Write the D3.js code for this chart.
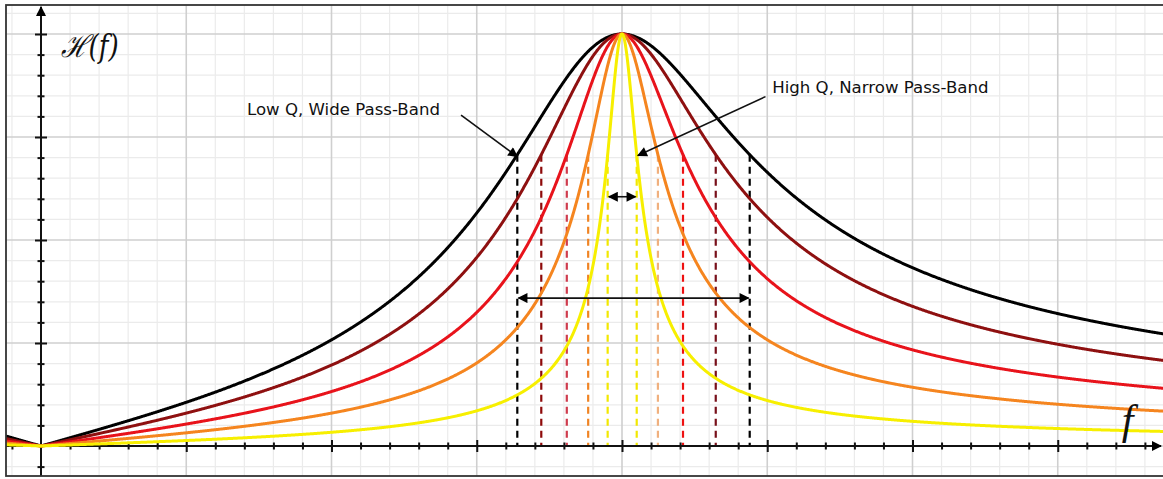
<!DOCTYPE html>
<html><head><meta charset="utf-8">
<script src="https://cdn.jsdelivr.net/npm/d3@7/dist/d3.min.js"></script>
<style>html,body{margin:0;padding:0;background:#fff;} svg{display:block}</style>
</head><body><svg id="chart" width="1163" height="479"></svg>
<script>
// ---------------- data ----------------
const seriesNames = ["Q = 2.5", "Q = 3.33", "Q = 5", "Q = 8.33", "Q = 20"];
const qualityFactors = [2.5, 3.33, 5, 8.33, 20];
const resonantFrequency = 1;      // f0 (normalised)
const peakGain = 1;               // |H(f0)|
const halfPowerLevel = Math.SQRT1_2; // -3 dB
const freqTickStep = 0.05;        // minor grid / tick spacing on f axis
const gainTickStep = 0.05;        // minor grid / tick spacing on H axis
const majorEvery = 5;             // every 5th tick is a major one
const annotationTexts = ["Low Q, Wide Pass-Band", "High Q, Narrow Pass-Band"];
const axisLabelY = "\u210B(f)";
const axisLabelX = "f";

// ---------------- styles ----------------
const curveColors = ["#000000", "#8e1010", "#e8131b", "#f5851f", "#f7ef00"];
const dashLeftColors = ["#000000", "#8e0a0a", "#cf3b4d", "#f08424", "#f2e800"];
const dashRightColors = ["#000000", "#78101a", "#ee1111", "#f0b07e", "#f2e800"];

// ---------------- layout ----------------
const W = 1163, H = 479;
const frame = {x: 6, y: 5, w: 1200, h: 471};
const x = d3.scaleLinear().domain([0, 1]).range([41, 622]);
const y = d3.scaleLinear().domain([0, 1]).range([446, 34]);

const svg = d3.select("#chart");
svg.append("rect").attr("width", W).attr("height", H).attr("fill", "#fff");

const defs = svg.append("defs");
defs.append("clipPath").attr("id", "clip").append("rect")
  .attr("x", frame.x).attr("y", frame.y).attr("width", frame.w).attr("height", frame.h);
function marker(id, size, w) {
  defs.append("marker").attr("id", id)
    .attr("viewBox", "0 0 10 10").attr("refX", 9).attr("refY", 5)
    .attr("markerUnits", "userSpaceOnUse")
    .attr("markerWidth", size).attr("markerHeight", w)
    .attr("orient", "auto-start-reverse")
    .append("path").attr("d", "M0,0 L10,5 L0,10 Z").attr("fill", "#000");
}
marker("arr", 12, 10);
marker("axarr", 12, 10);

const g = svg.append("g").attr("clip-path", "url(#clip)");

// grid
const fMin = x.invert(frame.x), fMax = x.invert(frame.x + frame.w);
const hMin = y.invert(frame.y + frame.h), hMax = y.invert(frame.y);
const gridF = d3.range(Math.ceil(fMin / freqTickStep), Math.floor(fMax / freqTickStep) + 1);
const gridH = d3.range(Math.ceil(hMin / gainTickStep), Math.floor(hMax / gainTickStep) + 1);

const gridG = g.append("g");
const isMajor = i => ((i % majorEvery) + majorEvery) % majorEvery === 0;
gridG.selectAll(".vminor").data(gridF.filter(i => !isMajor(i))).join("line")
  .attr("x1", i => x(i * freqTickStep)).attr("x2", i => x(i * freqTickStep))
  .attr("y1", frame.y).attr("y2", frame.y + frame.h)
  .attr("stroke", "#ebebeb").attr("stroke-width", 1.2);
gridG.selectAll(".hminor").data(gridH.filter(i => !isMajor(i))).join("line")
  .attr("y1", i => y(i * gainTickStep)).attr("y2", i => y(i * gainTickStep))
  .attr("x1", frame.x).attr("x2", frame.x + frame.w)
  .attr("stroke", "#ebebeb").attr("stroke-width", 1.2);
gridG.selectAll(".vmajor").data(gridF.filter(isMajor)).join("line")
  .attr("x1", i => x(i * freqTickStep)).attr("x2", i => x(i * freqTickStep))
  .attr("y1", frame.y).attr("y2", frame.y + frame.h)
  .attr("stroke", "#cfcfcf").attr("stroke-width", 1.6);
gridG.selectAll(".hmajor").data(gridH.filter(isMajor)).join("line")
  .attr("y1", i => y(i * gainTickStep)).attr("y2", i => y(i * gainTickStep))
  .attr("x1", frame.x).attr("x2", frame.x + frame.w)
  .attr("stroke", "#cfcfcf").attr("stroke-width", 1.6);

// response & half-power points
function response(f, Q) {
  const a = Math.abs(f) / resonantFrequency;
  if (a === 0) return 0;
  const d = a - 1 / a;
  return peakGain / Math.sqrt(1 + Q * Q * d * d);
}
function halfPower(Q) {
  const s = Math.sqrt(1 + 4 * Q * Q);
  return [(s - 1) / (2 * Q) * resonantFrequency, (s + 1) / (2 * Q) * resonantFrequency];
}

// dashed half-power lines
const dashG = g.append("g");
qualityFactors.forEach((Q, i) => {
  const [f1, f2] = halfPower(Q);
  [[f1, dashLeftColors[i]], [f2, dashRightColors[i]]].forEach(([f, c]) => {
    dashG.append("line")
      .attr("x1", x(f)).attr("x2", x(f))
      .attr("y1", y(halfPowerLevel * peakGain)).attr("y2", y(0))
      .attr("stroke", c).attr("stroke-width", 2.2)
      .attr("stroke-dasharray", "7,5");
  });
});

// axes (library axes for ticks)
const axG = g.append("g");
const xTickVals = gridF.map(i => i * freqTickStep).filter(v => Math.abs(v) > 1e-9);
const yTickVals = gridH.map(i => i * gainTickStep).filter(v => Math.abs(v) > 1e-9);
function crossTicks(sel, size, horizontal) {
  sel.selectAll(".tick line").attr(horizontal ? "y1" : "x1", -size).attr(horizontal ? "y2" : "x2", size)
    .attr("stroke", "#111").attr("stroke-width", 2);
  sel.selectAll(".domain").remove();
  sel.selectAll("text").remove();
}
const xMinor = axG.append("g").attr("transform", `translate(0,${y(0)})`)
  .call(d3.axisBottom(x).tickValues(xTickVals.filter(v => !isMajor(Math.round(v / freqTickStep)))).tickFormat(""));
crossTicks(xMinor, 3.5, true);
const xMajor = axG.append("g").attr("transform", `translate(0,${y(0)})`)
  .call(d3.axisBottom(x).tickValues(xTickVals.filter(v => isMajor(Math.round(v / freqTickStep)))).tickFormat(""));
crossTicks(xMajor, 6, true);
const yMinor = axG.append("g").attr("transform", `translate(${x(0)},0)`)
  .call(d3.axisLeft(y).tickValues(yTickVals.filter(v => !isMajor(Math.round(v / gainTickStep)))).tickFormat(""));
crossTicks(yMinor, 3.5, false);
const yMajor = axG.append("g").attr("transform", `translate(${x(0)},0)`)
  .call(d3.axisLeft(y).tickValues(yTickVals.filter(v => isMajor(Math.round(v / gainTickStep)))).tickFormat(""));
crossTicks(yMajor, 6, false);

axG.append("line").attr("x1", frame.x).attr("x2", W - 2).attr("y1", y(0)).attr("y2", y(0))
  .attr("stroke", "#111").attr("stroke-width", 2).attr("marker-end", "url(#axarr)");
axG.append("line").attr("x1", x(0)).attr("x2", x(0)).attr("y1", frame.y + frame.h).attr("y2", frame.y + 2)
  .attr("stroke", "#111").attr("stroke-width", 2).attr("marker-end", "url(#axarr)");

// curves
const fSamples = d3.range(fMin, Math.min(fMax, x.invert(W + 5)), 0.001).concat([0]).sort((a, b) => a - b);
const line = d3.line().x(d => x(d[0])).y(d => y(d[1])).curve(d3.curveLinear);
qualityFactors.forEach((Q, i) => {
  g.append("path").datum(fSamples.map(f => [f, response(f, Q)]))
    .attr("d", line).attr("fill", "none")
    .attr("stroke", curveColors[i]).attr("stroke-width", 3)
    .attr("stroke-linejoin", "round").attr("aria-label", seriesNames[i]);
});

// annotations
const annG = svg.append("g");
const blackHP = halfPower(qualityFactors[0]);
const yellowHP = halfPower(qualityFactors[qualityFactors.length - 1]);
function arrowLine(fA, hA, fB, hB, both) {
  const l = annG.append("line")
    .attr("x1", x(fA)).attr("y1", y(hA)).attr("x2", x(fB)).attr("y2", y(hB))
    .attr("stroke", "#111").attr("stroke-width", 1.6)
    .attr("marker-end", "url(#arr)");
  if (both) l.attr("marker-start", "url(#arr)");
}
// pointer arrows
arrowLine(0.723, 0.803, blackHP[0], halfPowerLevel - 0.005, false);
arrowLine(1.247, 0.848, yellowHP[1] + 0.002, halfPowerLevel - 0.002, false);
// bandwidth arrows
arrowLine(blackHP[0] + 0.002, 0.359, blackHP[1] - 0.002, 0.359, true);
arrowLine(yellowHP[0] + 0.002, 0.605, yellowHP[1] - 0.002, 0.605, true);

annG.append("text").attr("x", x(0.3546)).attr("y", y(0.8025))
  .attr("font-family", "'DejaVu Sans', sans-serif").attr("font-size", 16.6).attr("fill", "#111")
  .text(annotationTexts[0]);
annG.append("text").attr("x", x(1.2585)).attr("y", y(0.857))
  .attr("font-family", "'DejaVu Sans', sans-serif").attr("font-size", 16.6).attr("fill", "#111")
  .text(annotationTexts[1]);

annG.append("text").attr("x", x(0.034)).attr("y", y(0.945))
  .attr("font-family", "'DejaVu Serif', serif").attr("font-style", "italic").attr("font-size", 31).attr("fill", "#111")
  .attr("textLength", 58).attr("lengthAdjust", "spacingAndGlyphs")
  .text(axisLabelY);
annG.append("text").attr("x", x(1.86)).attr("y", y(0.03))
  .attr("font-family", "'Liberation Serif', serif").attr("font-style", "italic").attr("font-size", 42).attr("fill", "#111")
  .text(axisLabelX);

// frame
svg.append("rect").attr("x", frame.x).attr("y", frame.y).attr("width", frame.w).attr("height", frame.h)
  .attr("fill", "none").attr("stroke", "#333").attr("stroke-width", 1.8);
</script></body></html>
